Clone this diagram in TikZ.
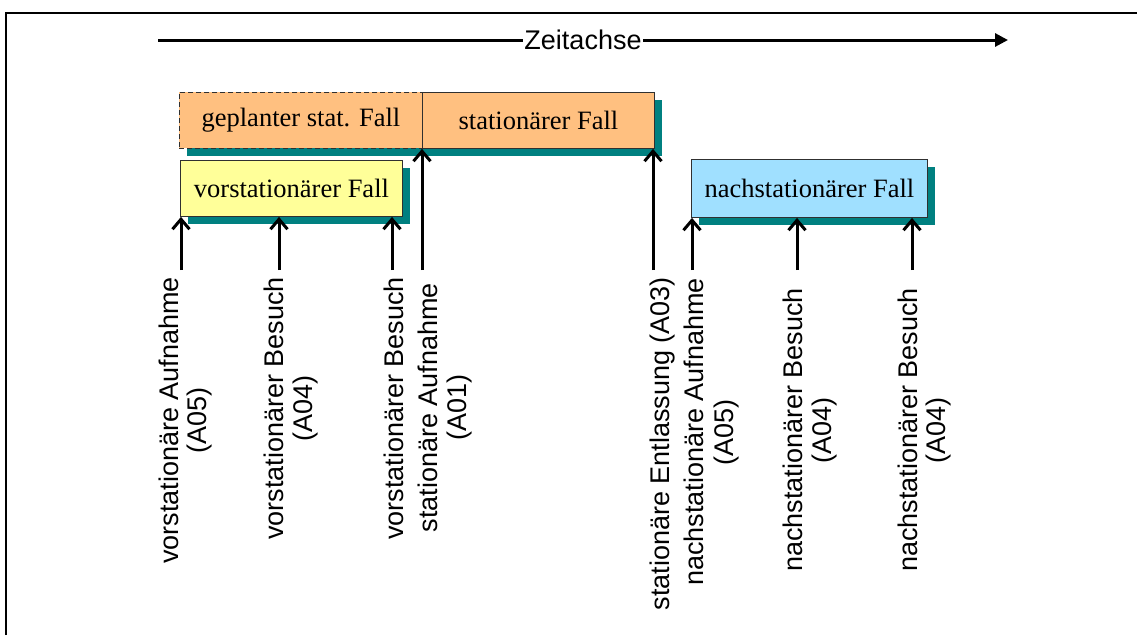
\documentclass[tikz,border=0pt]{standalone}
\usepackage{fontspec}
\setmainfont{Liberation Serif}
\setsansfont{Liberation Sans}
\usetikzlibrary{arrows.meta,calc,shadows}

\definecolor{caseorange}{HTML}{FFC080}
\definecolor{caseyellow}{HTML}{FFFF99}
\definecolor{caseblue}{HTML}{A0E0FF}
\definecolor{shadowteal}{HTML}{008080}
\definecolor{edgegray}{HTML}{303030}

\begin{document}
\begin{tikzpicture}[x=1pt,y=-1pt,
  casebox/.style={draw=edgegray, line width=0.9pt, minimum height=56pt,
    inner sep=0pt, anchor=north west, font=\fontsize{26.5}{30}\selectfont,
    drop shadow={shadow xshift=8pt, shadow yshift=-8pt, fill=shadowteal,
      opacity=1, draw=none}},
  lbl/.style={rotate=90, inner sep=0pt, font=\sffamily\fontsize{27}{29}\selectfont},
  evt/.style={line width=3pt, -{Straight Barb[length=10pt,width=17pt]}},
  axisline/.style={line width=3pt, -{Triangle[length=13pt,width=13pt]}}
]
\useasboundingbox (0,0) rectangle (1137,635);

% frame
\draw[line width=2pt] (6,635) -- (6,13) -- (1137,13);

% time axis
\coordinate (ts) at (158,40);
\coordinate (te) at (1008,40);
\draw[axisline] (ts) -- node[fill=white, inner sep=1pt,
  font=\sffamily\fontsize{27}{30}\selectfont] (axislabel) {Zeitachse} (te);

% cases
\node[casebox, fill=caseorange, dash pattern=on 5pt off 3pt,
  minimum width=243pt] (geplant) at (179,92) {geplanter stat. Fall};
\node[casebox, fill=caseorange, minimum width=232pt] (stat) at (422,92) {stationärer Fall};
\node[casebox, fill=caseyellow, minimum width=222pt] (vor) at (180,160) {vorstationärer Fall};
\node[casebox, fill=caseblue, minimum width=236pt, minimum height=58pt] (nach) at (691,159) {nachstationärer Fall};

% event arrows
\coordinate (p1) at (181,270);
\coordinate (p2) at (279,270);
\coordinate (p3) at (392,270);
\coordinate (p4) at (422,270);
\coordinate (p5) at (653,270);
\coordinate (p6) at (692,270);
\coordinate (p7) at (797,270);
\coordinate (p8) at (912,270);
\draw[evt] (p1) -- (p1 |- vor.south);
\draw[evt] (p2) -- (p2 |- vor.south);
\draw[evt] (p3) -- (p3 |- vor.south);
\draw[evt] (p4) -- (p4 |- stat.south);
\draw[evt] (p5) -- (p5 |- stat.south);
\draw[evt] (p6) -- (p6 |- nach.south);
\draw[evt] (p7) -- (p7 |- nach.south);
\draw[evt] (p8) -- (p8 |- nach.south);

% event labels
\node[lbl, anchor=base east] (l1a) at (178,277) {vorstationäre Aufnahme};
\node[lbl, anchor=base] (l1b) at ($(l1a.base)+(28,0)$) {(A05)};
\node[lbl, anchor=base east] (l2a) at (283,277) {vorstationärer Besuch};
\node[lbl, anchor=base] (l2b) at ($(l2a.base)+(29,0)$) {(A04)};
\node[lbl, anchor=base east] (l3a) at (403,277) {vorstationärer Besuch};
\node[lbl, anchor=base east] (l4a) at (437,283) {stationäre Aufnahme};
\node[lbl, anchor=base] (l4b) at ($(l4a.base)+(29,0)$) {(A01)};
\node[lbl, anchor=base east] (l5a) at (669,277) {stationäre Entlassung (A03)};
\node[lbl, anchor=base east] (l6a) at (703,278) {nachstationäre Aufnahme};
\node[lbl, anchor=base] (l6b) at ($(l6a.base)+(30,0)$) {(A05)};
\node[lbl, anchor=base east] (l7a) at (802,288) {nachstationärer Besuch};
\node[lbl, anchor=base] (l7b) at ($(l7a.base)+(29,0)$) {(A04)};
\node[lbl, anchor=base east] (l8a) at (917,288) {nachstationärer Besuch};
\node[lbl, anchor=base] (l8b) at ($(l8a.base)+(28,0)$) {(A04)};
\end{tikzpicture}
\end{document}
